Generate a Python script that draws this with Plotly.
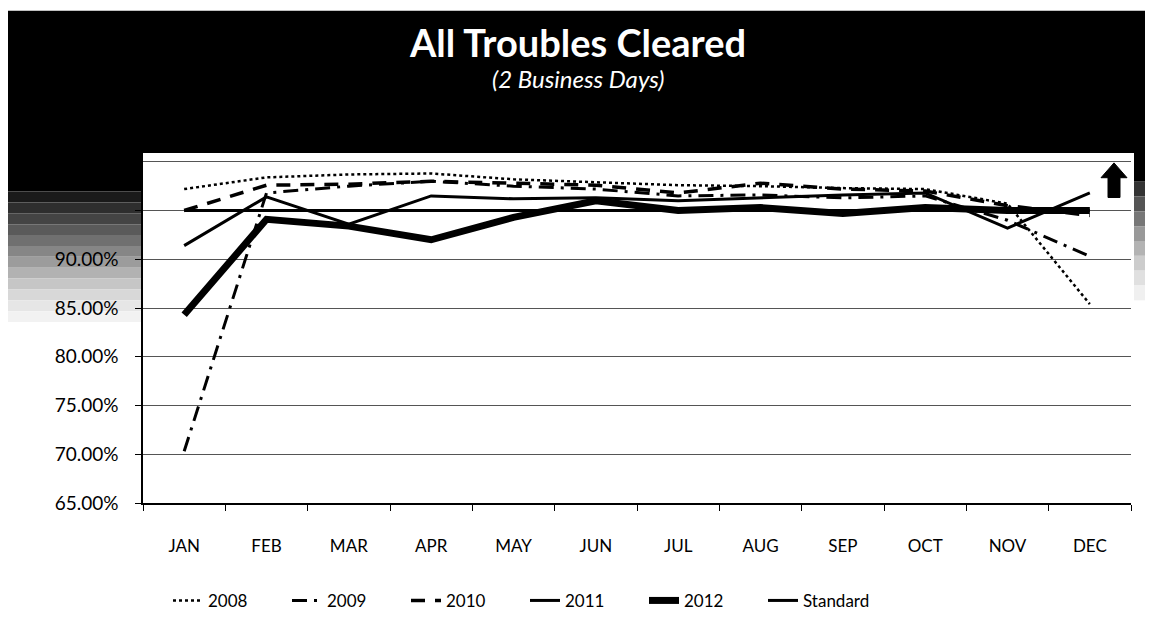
import plotly.graph_objects as go

# data
months = ["JAN", "FEB", "MAR", "APR", "MAY", "JUN", "JUL", "AUG", "SEP", "OCT", "NOV", "DEC"]
y2008 = [97.2, 98.4, 98.7, 98.8, 98.2, 97.9, 97.6, 97.5, 97.3, 97.2, 95.7, 85.4]
y2009 = [70.3, 96.8, 97.5, 98.0, 97.5, 97.2, 96.5, 96.6, 96.3, 96.5, 94.0, 90.3]
y2010 = [95.0, 97.6, 97.7, 98.0, 97.8, 97.6, 96.8, 97.8, 97.2, 97.0, 95.5, 94.5]
y2011 = [91.4, 96.4, 93.6, 96.5, 96.2, 96.3, 96.0, 96.3, 96.6, 96.8, 93.2, 96.8]
y2012 = [84.3, 94.1, 93.4, 92.0, 94.3, 96.0, 95.0, 95.3, 94.7, 95.3, 95.0, 95.0]
standard = [95] * 12
ytick_vals = [65, 70, 75, 80, 85, 90, 95, 100]
# 95% and 100% labels are lost in the dark scan patch of the original
ytick_text = [f"{v:.2f}%" if v <= 90 else "" for v in ytick_vals]

# the page puts the figure 8px in from the window corner
OFF = 8
W, H = 1153 - OFF, 631 - OFF
# plot box in window pixels: x 143..1131, y 153..507
L, R, T, B = 143 - OFF, 1153 - 1131, 153 - OFF, 631 - 507
PW, PH = W - L - R, H - T - B


def px(x):
    return (x - OFF - L) / PW


def py(y):
    return (H - B - (y - OFF)) / PH


def rect(x0, x1, y0, y1, color):
    return dict(type="rect", xref="paper", yref="paper", x0=px(x0), x1=px(x1),
                y0=py(y1), y1=py(y0), fillcolor=color, line_width=0, layer="below")


fig = go.Figure()
fig.add_trace(go.Scatter(x=months, y=y2008, name="2008", mode="lines",
                         line=dict(color="black", width=2.5, dash="dot")))
fig.add_trace(go.Scatter(x=months, y=y2009, name="2009", mode="lines",
                         line=dict(color="black", width=3, dash="15px,7px,3px,7px")))
fig.add_trace(go.Scatter(x=months, y=y2010, name="2010", mode="lines",
                         line=dict(color="black", width=3.5, dash="14px,10px")))
fig.add_trace(go.Scatter(x=months, y=y2011, name="2011", mode="lines",
                         line=dict(color="black", width=3)))
fig.add_trace(go.Scatter(x=months, y=y2012, name="2012", mode="lines",
                         line=dict(color="black", width=7)))
fig.add_trace(go.Scatter(x=months, y=standard, name="Standard", mode="lines",
                         line=dict(color="black", width=3)))

# scanned look: black title band, dark fading patches beside the plot
shapes = [rect(3, 1153, 9, 153, "black"),
          rect(3, 141, 150, 192, "black"),
          rect(1134, 1153, 150, 182, "black")]
left_ramp = ["#1a1a1a", "#2e2e2e", "#444", "#5a5a5a", "#707070", "#868686", "#9c9c9c",
             "#b2b2b2", "#c6c6c6", "#d8d8d8", "#e6e6e6", "#f2f2f2"]
for i, c in enumerate(left_ramp):
    shapes.append(rect(3, 141, 192 + i * 11, 203 + i * 11, c))
right_ramp = ["#333", "#555", "#777", "#999", "#b3b3b3", "#cccccc", "#e0e0e0", "#f0f0f0"]
for i, c in enumerate(right_ramp):
    shapes.append(rect(1134, 1153, 182 + i * 15, 197 + i * 15, c))
shapes.append(dict(type="line", xref="paper", yref="paper", x0=px(5), x1=px(5),
                   y0=py(631), y1=py(150), line=dict(color="black", width=2)))
# up arrow at the right
shapes.append(dict(type="path", xref="paper", yref="paper",
                   path=f"M {px(1114)},{py(163)} L {px(1127)},{py(178)} L {px(1120)},{py(178)} "
                        f"L {px(1120)},{py(198)} L {px(1108)},{py(198)} L {px(1108)},{py(178)} "
                        f"L {px(1101)},{py(178)} Z",
                   fillcolor="black", line=dict(color="black", width=1)))

fig.update_layout(
    width=W, height=H,
    margin=dict(l=L, r=R, t=T, b=B),
    paper_bgcolor="white", plot_bgcolor="white",
    font=dict(family="Lato", color="black", size=17),
    shapes=shapes,
    showlegend=True,
    legend=dict(orientation="h", x=px(168), xanchor="left", y=py(606), yanchor="middle",
                font=dict(size=17), entrywidth=74, bgcolor="rgba(0,0,0,0)"),
    annotations=[
        dict(text="<b>All Troubles Cleared</b>", xref="paper", yref="paper",
             x=px(577), y=py(41), yanchor="middle", showarrow=False,
             font=dict(size=38, color="white")),
        dict(text="<i>(2 Business Days)</i>", xref="paper", yref="paper",
             x=px(578), y=py(78), yanchor="middle", showarrow=False,
             font=dict(size=24, color="white")),
    ],
)

fig.update_xaxes(type="category", range=[-0.5, 11.5], showline=True, linecolor="black",
                 linewidth=1.5, mirror=True, ticks="outside", tickson="boundaries", ticklen=6,
                 tickcolor="black", showgrid=False, ticklabelstandoff=27,
                 tickfont=dict(size=17))
fig.update_yaxes(range=[65, 100.9], tickvals=ytick_vals, ticktext=ytick_text,
                 showline=True, linecolor="black", linewidth=1.5,
                 ticks="outside", ticklen=6, tickcolor="black", showgrid=True,
                 gridcolor="#555", gridwidth=1, zeroline=False, ticklabelstandoff=13,
                 tickfont=dict(size=19))

fig.write_html("out.html")
